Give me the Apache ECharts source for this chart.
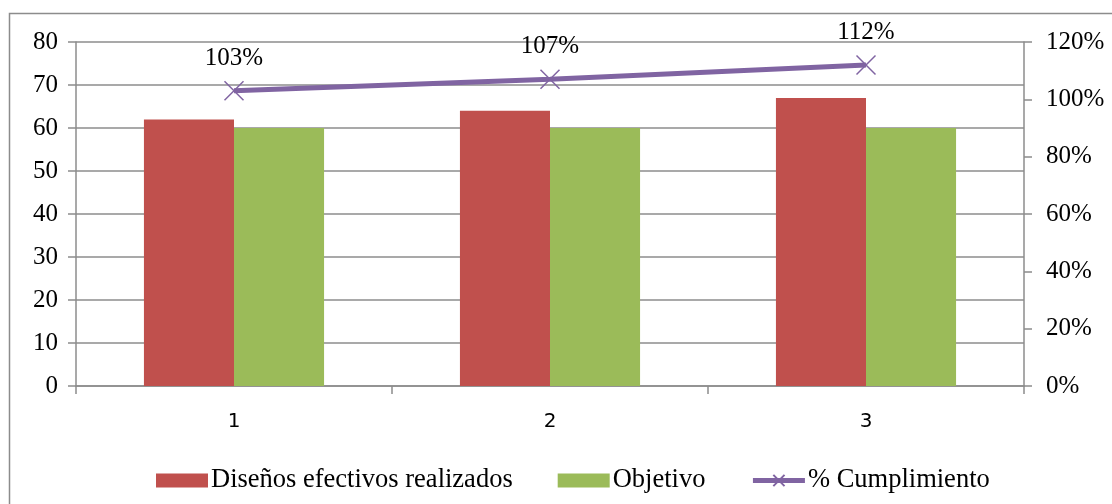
<!DOCTYPE html>
<html>
<head>
<meta charset="utf-8">
<script src="https://cdn.jsdelivr.net/npm/echarts@6/dist/echarts.min.js"></script>
<style>html,body{margin:0;padding:0;background:#fff;}#c{width:1112px;height:504px;}</style>
</head>
<body>
<div id="c"></div>
<script>
const categories = ['1', '2', '3'];
const disenos = [62, 64, 67];
const objetivo = [60, 60, 60];
const cumplimiento = [103, 107, 112];
const leftTicks = {min: 0, max: 80, interval: 10};
const rightTicks = {min: 0, max: 120, interval: 20};

const chart = echarts.init(document.getElementById('c'));
const serif = 'Liberation Serif';
chart.setOption({
  animation: false,
  backgroundColor: '#fff',
  graphic: [{
    type: 'rect', silent: true,
    shape: {x: 9.5, y: 13.5, width: 1110, height: 500},
    style: {fill: 'none', stroke: '#8c8c8c', lineWidth: 1.5}
  }],
  grid: {left: 76, right: 88, top: 42, bottom: 118, containLabel: false},
  legend: {
    left: 151, top: 462,
    itemWidth: 52, itemHeight: 14, itemGap: 45,
    textStyle: {fontFamily: serif, fontSize: 26.5, color: '#000', padding: [0, 0, 0, -2]},
    data: [
      {name: 'Diseños efectivos realizados', icon: 'rect'},
      {name: 'Objetivo', icon: 'rect'},
      {name: '% Cumplimiento', lineStyle: {width: 5}}
    ]
  },
  xAxis: {
    type: 'category', data: categories,
    axisLine: {lineStyle: {color: '#8c8c8c', width: 1.5}},
    axisTick: {show: true, length: 8, lineStyle: {color: '#8c8c8c', width: 1.5}},
    axisLabel: {fontFamily: 'DejaVu Sans', fontSize: 20, color: '#000', margin: 26}
  },
  yAxis: [{
    type: 'value', min: leftTicks.min, max: leftTicks.max, interval: leftTicks.interval,
    axisLine: {show: true, lineStyle: {color: '#8c8c8c', width: 1.5}},
    axisTick: {show: true, length: 8, lineStyle: {color: '#8c8c8c', width: 1.5}},
    axisLabel: {fontFamily: serif, fontSize: 25, color: '#000', margin: 18},
    splitLine: {show: true, lineStyle: {color: '#8c8c8c', width: 1.5}}
  }, {
    type: 'value', min: rightTicks.min, max: rightTicks.max, interval: rightTicks.interval,
    position: 'right',
    axisLine: {show: true, lineStyle: {color: '#8c8c8c', width: 1.5}},
    axisTick: {show: true, length: 8, lineStyle: {color: '#8c8c8c', width: 1.5}},
    axisLabel: {fontFamily: serif, fontSize: 25, color: '#000', margin: 22, formatter: '{value}%'},
    splitLine: {show: false}
  }],
  series: [{
    name: 'Diseños efectivos realizados', type: 'bar', data: disenos,
    barGap: '0%', barCategoryGap: '43%',
    itemStyle: {color: '#C0504D'}
  }, {
    name: 'Objetivo', type: 'bar', data: objetivo,
    itemStyle: {color: '#9BBB59'}
  }, {
    name: '% Cumplimiento', type: 'line', yAxisIndex: 1, data: cumplimiento,
    symbol: 'path://M0,0 L10,10 M10,0 L0,10', symbolSize: 19,
    lineStyle: {color: '#8064A2', width: 5},
    itemStyle: {color: '#8064A2', borderColor: '#8064A2', borderWidth: 1.5},
    label: {show: true, position: 'top', distance: 10, fontFamily: serif, fontSize: 25, color: '#000', formatter: '{c}%'}
  }]
});
</script>
</body>
</html>
